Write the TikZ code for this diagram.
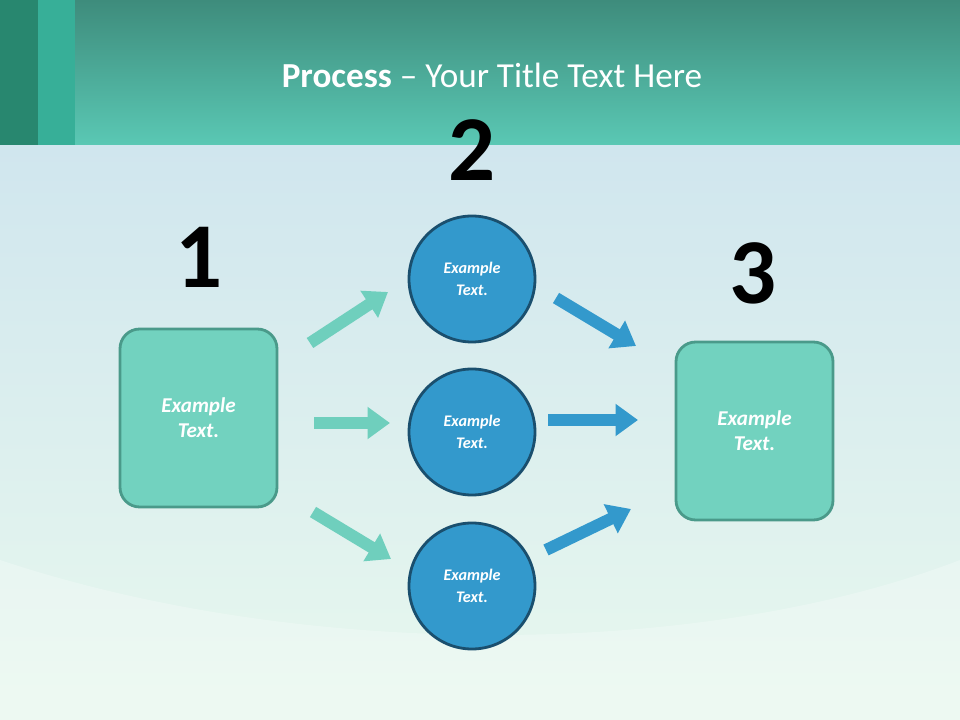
\documentclass[tikz,border=0pt]{standalone}
\usepackage{fontspec}
\setmainfont{Carlito}
\usetikzlibrary{arrows.meta}
\definecolor{boxfill}{HTML}{72D2BF}
\definecolor{boxline}{HTML}{4A9A8A}
\definecolor{circfill}{HTML}{3399CC}
\definecolor{circline}{HTML}{1A4F6E}
\definecolor{tealarrow}{HTML}{6FCFBD}
\definecolor{headtop}{HTML}{3E8C7C}
\definecolor{headbot}{HTML}{5AC8B4}
\definecolor{stripa}{HTML}{28876F}
\definecolor{stripb}{HTML}{37AF98}
\definecolor{bgtop}{HTML}{D0E6EE}
\definecolor{bgbot}{HTML}{E8F8EE}
\begin{document}
\begin{tikzpicture}[x=0.025cm,y=-0.025cm,
  sqbox/.style={draw=boxline,line width=2pt,fill=boxfill,rounded corners=14pt,minimum width=157*0.025cm,minimum height=178*0.025cm,text=white,font=\fontsize{15}{18}\selectfont\bfseries\itshape,align=center},
  circ/.style={circle,draw=circline,line width=2pt,fill=circfill,minimum size=126*0.025cm,text=white,font=\fontsize{11.5}{16}\selectfont\bfseries\itshape,align=center},
  num/.style={font=\fontsize{66}{70}\selectfont\bfseries},
  arr/.style={line width=8.5pt,-{Triangle[length=16pt,width=22pt]}},
]
\useasboundingbox (0,0) rectangle (960,720);
\shade[top color=bgtop,bottom color=bgbot] (0,145) rectangle (960,720);
\fill[white,opacity=0.25] (0,560) .. controls (300,660) and (700,660) .. (960,560) -- (960,720) -- (0,720) -- cycle;
\shade[top color=headtop,bottom color=headbot] (0,0) rectangle (960,145);
\fill[stripa] (0,0) rectangle (38,145);
\fill[stripb] (38,0) rectangle (75,145);
\node[text=white,font=\fontsize{25}{30}\selectfont] (title) at (492,75) {\textbf{Process} – Your Title Text Here};
\node[sqbox] (b1) at (198.5,418) {Example\\Text.};
\node[sqbox] (b3) at (754.5,431) {Example\\Text.};
\node[circ] (c1) at (472,279) {Example\\Text.};
\node[circ] (c2) at (472,432) {Example\\Text.};
\node[circ] (c3) at (472,586) {Example\\Text.};
\node[num] (n1) at (199,257) {1};
\node[num] (n2) at (472,150) {2};
\node[num] (n3) at (753,273) {3};
\coordinate (a1s) at (310,343); \coordinate (a1e) at (388,292);
\coordinate (a2s) at (314,423); \coordinate (a2e) at (390,423);
\coordinate (a3s) at (313,512); \coordinate (a3e) at (391,559);
\coordinate (a4s) at (556,298); \coordinate (a4e) at (636,346);
\coordinate (a5s) at (548,420); \coordinate (a5e) at (638,420);
\coordinate (a6s) at (546,550); \coordinate (a6e) at (631,509);
\draw[arr,tealarrow] (a1s) -- (a1e);
\draw[arr,tealarrow] (a2s) -- (a2e);
\draw[arr,tealarrow] (a3s) -- (a3e);
\draw[arr,circfill] (a4s) -- (a4e);
\draw[arr,circfill] (a5s) -- (a5e);
\draw[arr,circfill] (a6s) -- (a6e);
\end{tikzpicture}
\end{document}
